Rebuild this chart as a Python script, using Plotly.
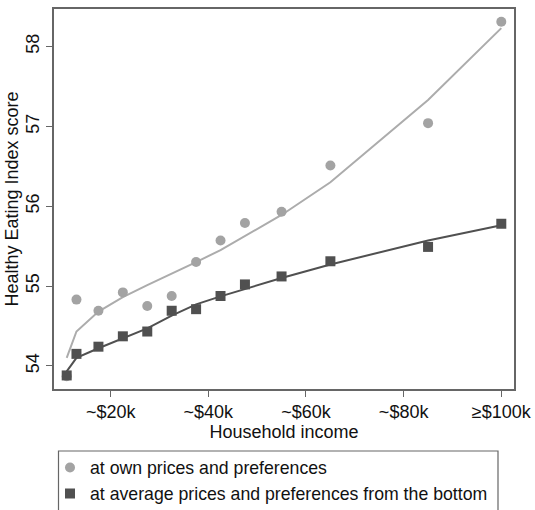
import plotly.graph_objects as go

# Household income bins (thousand $) and Healthy Eating Index scores
income_k = [11, 13, 17.5, 22.5, 27.5, 32.5, 37.5, 42.5, 47.5, 55, 65, 85, 100]

own_scores = [53.87, 54.83, 54.69, 54.92, 54.75, 54.875, 55.30, 55.57, 55.79,
               55.93, 56.51, 57.04, 58.31]
own_fit = [54.10, 54.43, 54.68, 54.86, 55.01, 55.15, 55.30, 55.45, 55.63,
           55.89, 56.30, 57.33, 58.23]

avg_scores = [53.88, 54.15, 54.24, 54.37, 54.43, 54.69, 54.71, 54.875, 55.02,
              55.12, 55.31, 55.49, 55.78]
avg_fit = [53.93, 54.10, 54.22, 54.35, 54.47, 54.63, 54.77, 54.87, 54.96,
           55.10, 55.27, 55.57, 55.76]

x_tickvals = [20, 40, 60, 80, 100]
x_ticktext = ["~$20k", "~$40k", "~$60k", "~$80k", "≥$100k"]
y_tickvals = [54, 55, 56, 57, 58]

LIGHT = "#a3a3a3"
LIGHT_LINE = "#acacac"
DARK = "#505050"
FRAME = "#666666"
FONT = "Liberation Sans, Arial, sans-serif"
FS = 18
LEG_FS = 17.7

W, H = 535, 510
ML, MR, MT, MB = 54, 21, 9, 121
PW, PH = W - ML - MR, H - MT - MB


def px_x(px):
    """Pixel column -> paper x."""
    return (px - ML) / PW


def px_y(py):
    """Pixel row -> paper y."""
    return (H - MB - py) / PH


fig = go.Figure()

# fitted curves (no legend entries)
fig.add_trace(go.Scatter(x=income_k, y=own_fit, mode="lines",
                         line=dict(color=LIGHT_LINE, width=2), showlegend=False,
                         hoverinfo="skip"))
fig.add_trace(go.Scatter(x=income_k, y=avg_fit, mode="lines",
                         line=dict(color=DARK, width=2), showlegend=False,
                         hoverinfo="skip"))

# observed scores
fig.add_trace(go.Scatter(x=income_k, y=own_scores, mode="markers",
                         marker=dict(symbol="circle", size=10, color=LIGHT),
                         name="at own prices and preferences", legend="legend"))
fig.add_trace(go.Scatter(x=income_k, y=avg_scores, mode="markers",
                         marker=dict(symbol="square", size=10, color=DARK),
                         name="at average prices and preferences from the bottom",
                         legend="legend2"))

legend_common = dict(xanchor="left", yanchor="middle", bgcolor="rgba(0,0,0,0)",
                     borderwidth=0, font=dict(size=LEG_FS), itemsizing="trace")

fig.update_layout(
    width=W, height=H,
    margin=dict(l=ML, r=MR, t=MT, b=MB, autoexpand=False),
    plot_bgcolor="white", paper_bgcolor="white",
    font=dict(family=FONT, size=FS, color="#111111"),
    xaxis=dict(
        range=[8.4, 102.6], tickvals=x_tickvals, ticktext=x_ticktext,
        showgrid=False, zeroline=False,
        showline=True, mirror=True, linecolor=FRAME, linewidth=1.5,
        ticks="outside", ticklen=6, tickcolor=FRAME, tickwidth=1.2,
        tickfont=dict(size=FS),
        title=dict(text="Household income", font=dict(size=FS), standoff=0),
    ),
    yaxis=dict(
        range=[53.71, 58.47], tickvals=y_tickvals, tickangle=-90,
        showgrid=False, zeroline=False,
        showline=True, mirror=True, linecolor=FRAME, linewidth=1.5,
        ticks="outside", ticklen=6, tickcolor=FRAME, tickwidth=1.2,
        tickfont=dict(size=FS),
        title=dict(text="Healthy Eating Index score", font=dict(size=FS), standoff=0),
    ),
    legend=dict(x=px_x(50), y=px_y(468), **legend_common),
    legend2=dict(x=px_x(50), y=px_y(494), **legend_common),
    shapes=[dict(
        type="rect", xref="paper", yref="paper",
        x0=px_x(58.5), x1=px_x(498), y0=px_y(530), y1=px_y(451),
        line=dict(color=FRAME, width=1.2), fillcolor="rgba(0,0,0,0)",
    )],
)

fig.write_html("out.html")
